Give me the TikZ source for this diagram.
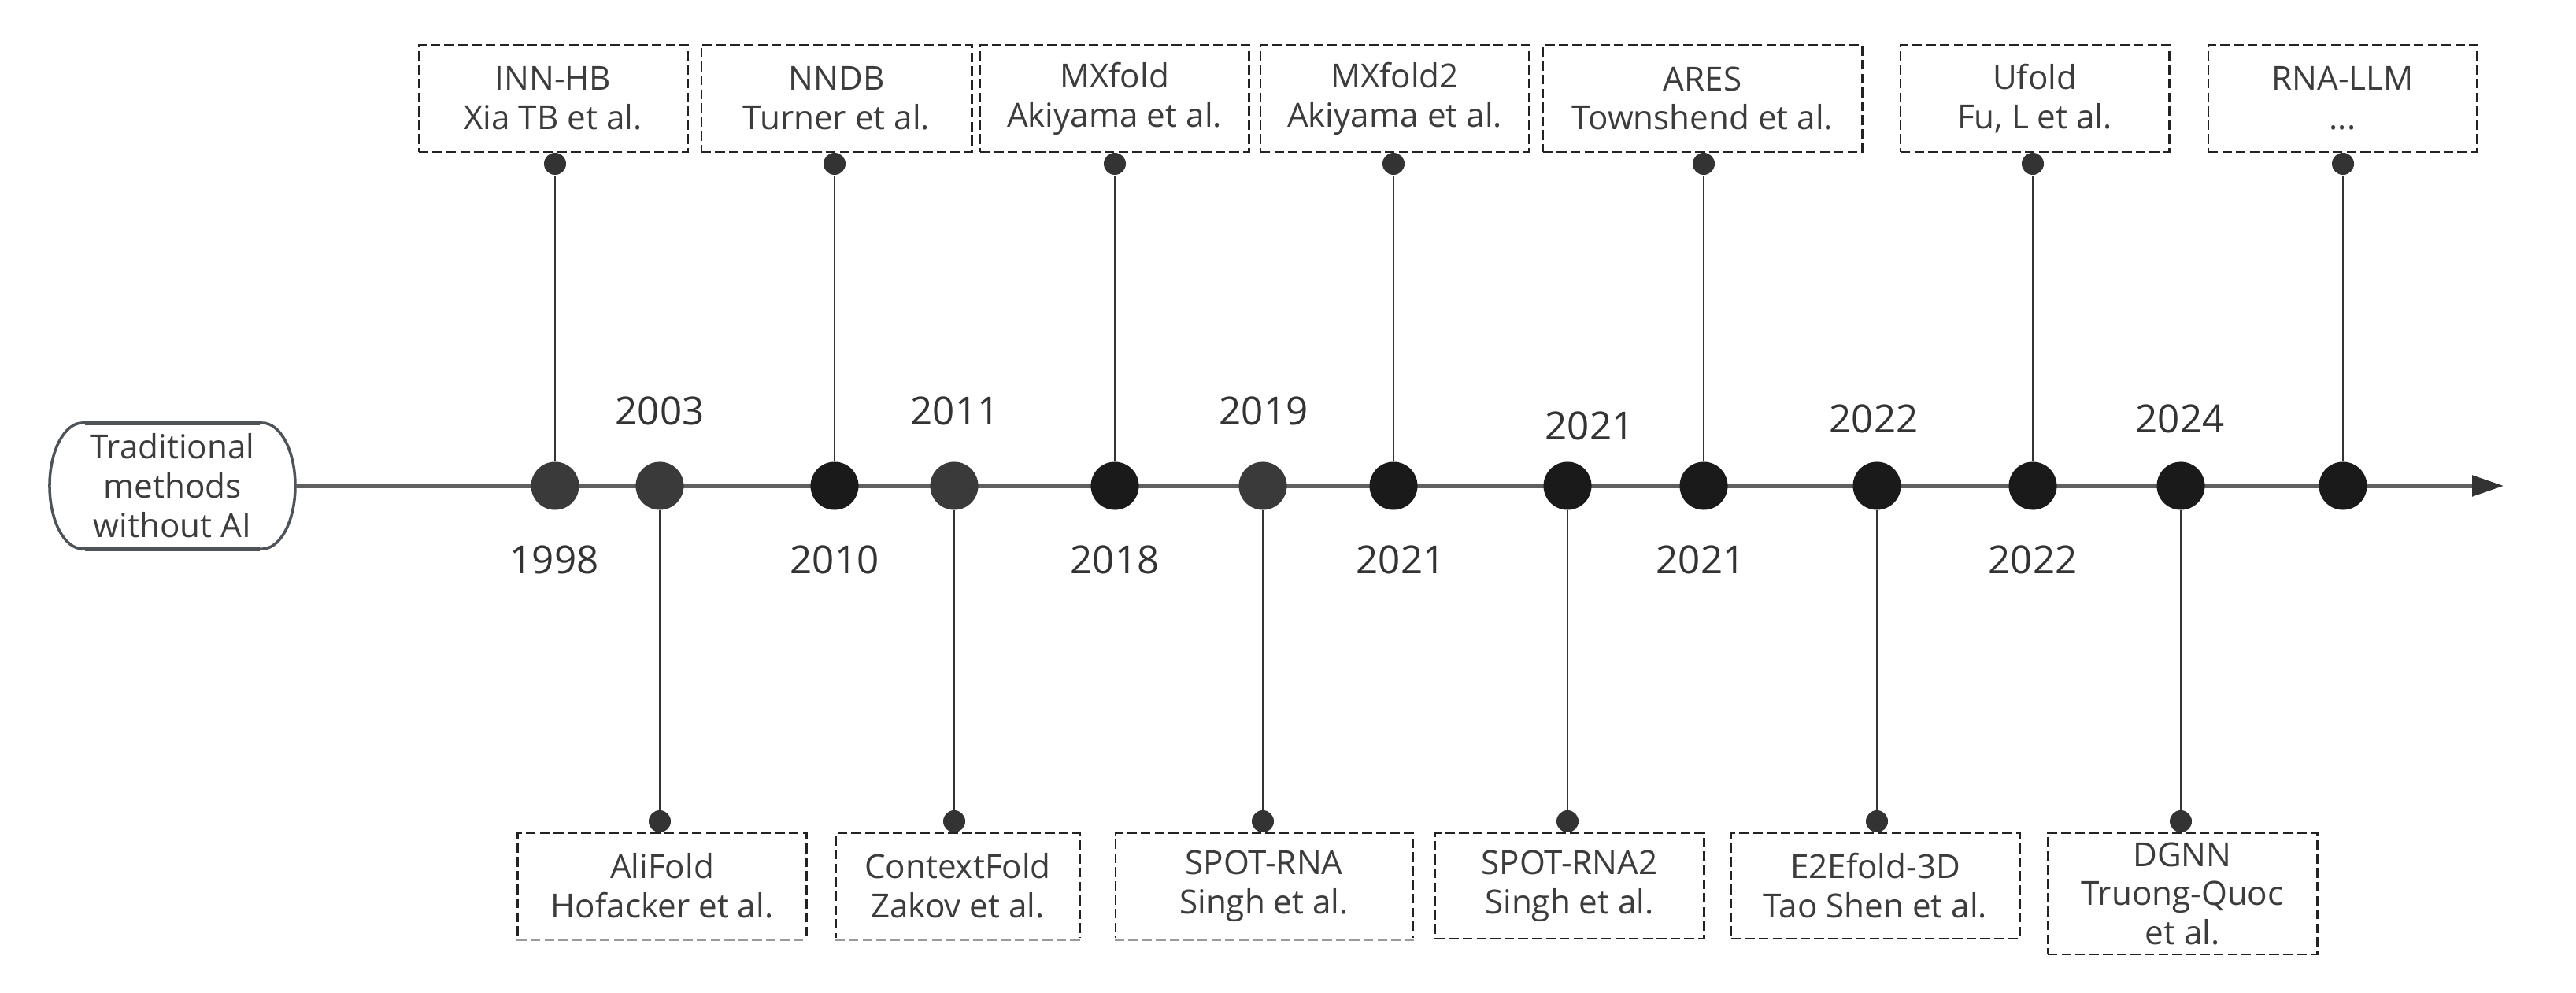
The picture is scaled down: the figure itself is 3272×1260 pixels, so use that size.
\documentclass[tikz,border=0pt]{standalone}
\usepackage{fontspec}
\setmainfont{Open Sans}
\usetikzlibrary{arrows.meta}
\definecolor{boxc}{HTML}{222222}
\definecolor{txtc}{HTML}{3C3C3C}
\definecolor{yearc}{HTML}{333333}
\definecolor{linec}{HTML}{333333}
\definecolor{tlc}{HTML}{606060}
\definecolor{dgray}{HTML}{3A3A3A}
\definecolor{dblack}{HTML}{1A1A1A}
\definecolor{trc}{HTML}{4E5358}
\definecolor{edgegray}{HTML}{9A9A9A}
\tikzset{
  tbox/.style={draw=boxc, line width=0.8pt, dash pattern=on 3.5pt off 1.5pt,
    minimum height=1.36cm, inner sep=0pt, align=center,
    font=\fontsize{12}{14.2}\selectfont, text=txtc},
  grayedge/.style={draw=edgegray, line width=0.9pt, dash pattern=on 3.5pt off 1.5pt},
  dotgray/.style={circle, fill=dgray, minimum size=0.61cm, inner sep=0pt},
  dotblack/.style={circle, fill=dblack, minimum size=0.61cm, inner sep=0pt},
  smalldot/.style={circle, fill=linec, minimum size=0.28cm, inner sep=0pt},
  year/.style={font=\fontsize{14}{16}\selectfont, text=yearc, inner sep=0pt},
  conn/.style={draw=linec, line width=0.6pt},
  timeline/.style={draw=tlc, line width=1.5pt, -{Triangle[length=0.4cm,width=0.26cm,color=linec]}},
}
\begin{document}
\begin{tikzpicture}[x=0.01cm,y=0.01cm]
\useasboundingbox (0,0) rectangle (3272,1260);
% left start node
\node[minimum width=3.12cm, minimum height=1.6cm, inner sep=0pt, align=center,
  font=\fontsize{12}{14.2}\selectfont, text=txtc] (trad) at (219,643)
  {Traditional\\methods\\without AI};
\draw[trc, line width=1pt] (105,723) -- (333,723)
  arc[start angle=90, end angle=-90, x radius=0.42cm, y radius=0.8cm]
  -- (105,563)
  arc[start angle=270, end angle=90, x radius=0.42cm, y radius=0.8cm] -- cycle;
\draw[trc, line width=1.6pt] (108,723) -- (330,723);
\draw[trc, line width=1.6pt] (108,563) -- (330,563);
\coordinate (tlend) at (3180,643);
\draw[timeline] (trad.east) -- (tlend);
% timeline dots
\node[dotgray]  (d1)  at (705,643) {};
\node[dotgray]  (d2)  at (838,643) {};
\node[dotblack] (d3)  at (1060,643) {};
\node[dotgray]  (d4)  at (1212,643) {};
\node[dotblack] (d5)  at (1416,643) {};
\node[dotgray]  (d6)  at (1604,643) {};
\node[dotblack] (d7)  at (1770,643) {};
\node[dotblack] (d8)  at (1991,643) {};
\node[dotblack] (d9)  at (2164,643) {};
\node[dotblack] (d10) at (2384,643) {};
\node[dotblack] (d11) at (2582,643) {};
\node[dotblack] (d12) at (2770,643) {};
\node[dotblack] (d13) at (2976,643) {};
% year labels
\node[year] (y1)  at (704,549)  {1998};
\node[year] (y2)  at (838,738)  {2003};
\node[year] (y3)  at (1060,549) {2010};
\node[year] (y4)  at (1213,738) {2011};
\node[year] (y5)  at (1416,549) {2018};
\node[year] (y6)  at (1605,738) {2019};
\node[year] (y7)  at (1779,549) {2021};
\node[year] (y8)  at (2019,719) {2021};
\node[year] (y9)  at (2160,549) {2021};
\node[year] (y10) at (2380,728) {2022};
\node[year] (y11) at (2582,549) {2022};
\node[year] (y12) at (2769,728) {2024};
% top boxes
\node[tbox, minimum width=3.41cm] (t1) at (702.5,1135)  {INN-HB\\Xia TB et al.};
\node[tbox, minimum width=3.43cm] (t2) at (1062.5,1135) {NNDB\\Turner et al.};
\node[tbox, minimum width=3.41cm] (t3) at (1415.5,1135) {MXfold\\Akiyama et al.};
\node[tbox, minimum width=3.41cm] (t4) at (1771.5,1135) {MXfold2\\Akiyama et al.};
\node[tbox, minimum width=4.05cm] (t5) at (2162.5,1135) {ARES\\Townshend et al.};
\node[tbox, minimum width=3.41cm] (t6) at (2584.5,1135) {Ufold\\Fu, L et al.};
\node[tbox, minimum width=3.41cm] (t7) at (2975.5,1135) {RNA-LLM\\...};
% bottom boxes
\node[tbox, minimum width=3.66cm, minimum height=1.34cm] (b1) at (841,135)    {AliFold\\Hofacker et al.};
\node[tbox, minimum width=3.09cm, minimum height=1.34cm] (b2) at (1216.5,135) {ContextFold\\Zakov et al.};
\node[tbox, minimum width=3.77cm, minimum height=1.34cm] (b3) at (1605.5,135) {SPOT-RNA\\Singh et al.};
\node[tbox, minimum width=3.41cm, minimum height=1.34cm] (b4) at (1993.5,135) {SPOT-RNA2\\Singh et al.};
\node[tbox, minimum width=3.66cm, minimum height=1.34cm] (b5) at (2382,135)   {E2Efold-3D\\Tao Shen et al.};
\node[tbox, minimum width=3.42cm, minimum height=1.54cm] (b6) at (2772,125)   {DGNN\\Truong-Quoc\\et al.};
% lighter bottom edges of the first three lower boxes
\draw[draw=white, line width=1.2pt] (b1.south west) -- (b1.south east);
\draw[grayedge] (b1.south west) -- (b1.south east);
\draw[draw=white, line width=1.2pt] (b2.south west) -- (b2.south east);
\draw[grayedge] (b2.south west) -- (b2.south east);
\draw[draw=white, line width=1.2pt] (b3.south west) -- (b3.south east);
\draw[grayedge] (b3.south west) -- (b3.south east);
% small dots under top boxes
\node[smalldot] (s1)  at (705,1052) {};
\node[smalldot] (s3)  at (1060,1052) {};
\node[smalldot] (s5)  at (1416,1052) {};
\node[smalldot] (s7)  at (1770,1052) {};
\node[smalldot] (s9)  at (2164,1052) {};
\node[smalldot] (s11) at (2582,1052) {};
\node[smalldot] (s13) at (2976,1052) {};
% small dots above bottom boxes
\node[smalldot] (s2)  at (838,217) {};
\node[smalldot] (s4)  at (1212,217) {};
\node[smalldot] (s6)  at (1604,217) {};
\node[smalldot] (s8)  at (1991,217) {};
\node[smalldot] (s10) at (2384,217) {};
\node[smalldot] (s12) at (2770,217) {};
% connectors
\draw[conn] (s1) -- (d1);
\draw[conn] (s2) -- (d2);
\draw[conn] (s3) -- (d3);
\draw[conn] (s4) -- (d4);
\draw[conn] (s5) -- (d5);
\draw[conn] (s6) -- (d6);
\draw[conn] (s7) -- (d7);
\draw[conn] (s8) -- (d8);
\draw[conn] (s9) -- (d9);
\draw[conn] (s10) -- (d10);
\draw[conn] (s11) -- (d11);
\draw[conn] (s12) -- (d12);
\draw[conn] (s13) -- (d13);
\end{tikzpicture}
\end{document}
